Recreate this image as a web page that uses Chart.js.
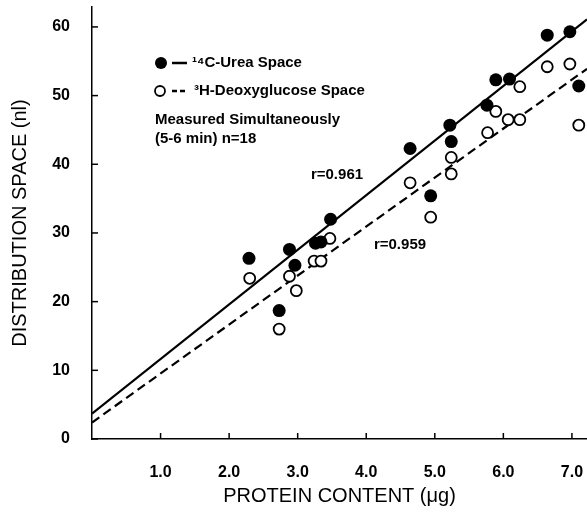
<!DOCTYPE html>
<html>
<head>
<meta charset="utf-8">
<script src="https://cdn.jsdelivr.net/npm/chart.js@4.4.1/dist/chart.umd.min.js"></script>
<style>
  html, body { margin: 0; padding: 0; background: #fff; overflow: hidden; }
  #wrap { width: 587px; height: 512px; }
  canvas { display: block; }
</style>
</head>
<body>
<div id="wrap"><canvas id="chart" width="587" height="512"></canvas></div>
<script>
// 14C-urea space (filled circles)
const ureaX = [2.29, 2.73, 2.88, 2.96, 3.26, 3.34, 3.48, 4.64, 4.94, 5.22, 5.24, 5.76, 5.89, 6.09, 6.64, 6.97, 7.10];
const ureaY = [26.3, 18.7, 27.6, 25.3, 28.5, 28.7, 32.0, 42.3, 35.4, 45.7, 43.3, 48.6, 52.3, 52.4, 58.8, 59.3, 51.4];

// 3H-deoxyglucose space (open circles)
const deoxyX = [2.30, 2.73, 2.88, 2.98, 3.24, 3.34, 3.47, 4.64, 4.94, 5.24, 5.24, 5.77, 5.89, 6.07, 6.24, 6.24, 6.64, 6.97, 7.10];
const deoxyY = [23.4, 16.0, 23.7, 21.6, 25.9, 25.9, 29.2, 37.3, 32.3, 41.0, 38.6, 44.6, 47.7, 46.5, 46.5, 51.3, 54.2, 54.6, 45.7];

// regression lines, end points
const ureaFitX = [0, 7.22];
const ureaFitY = [3.7, 61.1];
const deoxyFitX = [0, 7.22];
const deoxyFitY = [2.4, 53.9];

const xTicks = [1, 2, 3, 4, 5, 6, 7];
const yTicks = [0, 10, 20, 30, 40, 50, 60];

function pts(xs, ys) {
    return xs.map((x, i) => ({ x: x, y: ys[i] }));
}

const FONT = '"Liberation Sans", Arial, sans-serif';

// inward tick marks + legend and labels
const annotate = {
    id: 'annotate',
    afterDraw(chart) {
        const ctx = chart.ctx;
        const xs = chart.scales.x, ys = chart.scales.y;
        const area = chart.chartArea;
        ctx.save();
        ctx.strokeStyle = '#000';
        ctx.lineWidth = 1.5;
        xTicks.forEach(v => {
            const px = xs.getPixelForValue(v);
            ctx.beginPath();
            ctx.moveTo(px, area.bottom);
            ctx.lineTo(px, area.bottom - 6);
            ctx.stroke();
        });
        yTicks.forEach(v => {
            const py = ys.getPixelForValue(v);
            ctx.beginPath();
            ctx.moveTo(area.left, py);
            ctx.lineTo(area.left + 6, py);
            ctx.stroke();
        });

        // legend
        ctx.fillStyle = '#000';
        ctx.beginPath();
        ctx.arc(161, 63, 6, 0, Math.PI * 2);
        ctx.fill();
        ctx.lineWidth = 2.5;
        ctx.beginPath();
        ctx.moveTo(172, 63);
        ctx.lineTo(187, 63);
        ctx.stroke();

        ctx.lineWidth = 1.8;
        ctx.beginPath();
        ctx.arc(160, 91, 5, 0, Math.PI * 2);
        ctx.stroke();
        ctx.lineWidth = 2.5;
        ctx.setLineDash([5, 3]);
        ctx.beginPath();
        ctx.moveTo(172, 91);
        ctx.lineTo(188, 91);
        ctx.stroke();
        ctx.setLineDash([]);

        ctx.font = 'bold 15px ' + FONT;
        ctx.textBaseline = 'middle';
        ctx.textAlign = 'left';
        ctx.fillText('\u00b9\u2074C-Urea Space', 192, 63);
        ctx.fillText('\u00b3H-Deoxyglucose Space', 194, 91);
        ctx.fillText('Measured Simultaneously', 155, 120);
        ctx.fillText('(5-6 min) n=18', 155, 139);

        ctx.textAlign = 'center';
        ctx.fillText('r=0.961', 337, 175);
        ctx.fillText('r=0.959', 400, 245);
        ctx.restore();
    }
};

new Chart(document.getElementById('chart'), {
    type: 'scatter',
    data: {
        datasets: [
            {
                data: pts(ureaX, ureaY),
                backgroundColor: '#000',
                borderColor: '#000',
                pointRadius: 6.5,
                borderWidth: 0
            },
            {
                data: pts(deoxyX, deoxyY),
                backgroundColor: '#fff',
                borderColor: '#000',
                pointRadius: 5.5,
                borderWidth: 1.8
            },
            {
                type: 'line',
                data: pts(ureaFitX, ureaFitY),
                borderColor: '#000',
                borderWidth: 2.2,
                pointRadius: 0,
                fill: false
            },
            {
                type: 'line',
                data: pts(deoxyFitX, deoxyFitY),
                borderColor: '#000',
                borderWidth: 2.2,
                borderDash: [9, 5],
                pointRadius: 0,
                fill: false
            }
        ]
    },
    options: {
        responsive: false,
        animation: false,
        events: [],
        layout: { autoPadding: false, padding: { top: 7, right: 0, left: 0, bottom: 0 } },
        plugins: { legend: { display: false }, tooltip: { enabled: false } },
        scales: {
            x: {
                type: 'linear',
                min: 0,
                max: 7.22,
                afterBuildTicks: s => { s.ticks = xTicks.map(v => ({ value: v })); },
                afterFit: s => { s.height = 73; s.paddingLeft = 0; s.paddingRight = 0; },
                grid: { display: false },
                border: { display: true, color: '#000', width: 1.5 },
                ticks: {
                    color: '#000',
                    padding: 16,
                    maxRotation: 0,
                    font: { family: FONT, size: 16, weight: 'bold' },
                    callback: v => v.toFixed(1)
                },
                title: {
                    display: true,
                    text: 'PROTEIN CONTENT (\u03bcg)',
                    color: '#000',
                    font: { family: FONT, size: 20 },
                    padding: { top: 0, bottom: 4 }
                }
            },
            y: {
                type: 'linear',
                min: 0,
                max: 62.9,
                afterBuildTicks: s => { s.ticks = yTicks.map(v => ({ value: v })); },
                afterFit: s => { s.width = 92; s.paddingTop = 0; s.paddingBottom = 0; },
                grid: { display: false },
                border: { display: true, color: '#000', width: 1.5 },
                ticks: {
                    color: '#000',
                    padding: 14,
                    font: { family: FONT, size: 16, weight: 'bold' }
                },
                title: {
                    display: true,
                    text: 'DISTRIBUTION SPACE (nl)',
                    color: '#000',
                    font: { family: FONT, size: 20 },
                    padding: { top: 8, bottom: 0 }
                }
            }
        }
    },
    plugins: [annotate]
});
</script>
</body>
</html>
